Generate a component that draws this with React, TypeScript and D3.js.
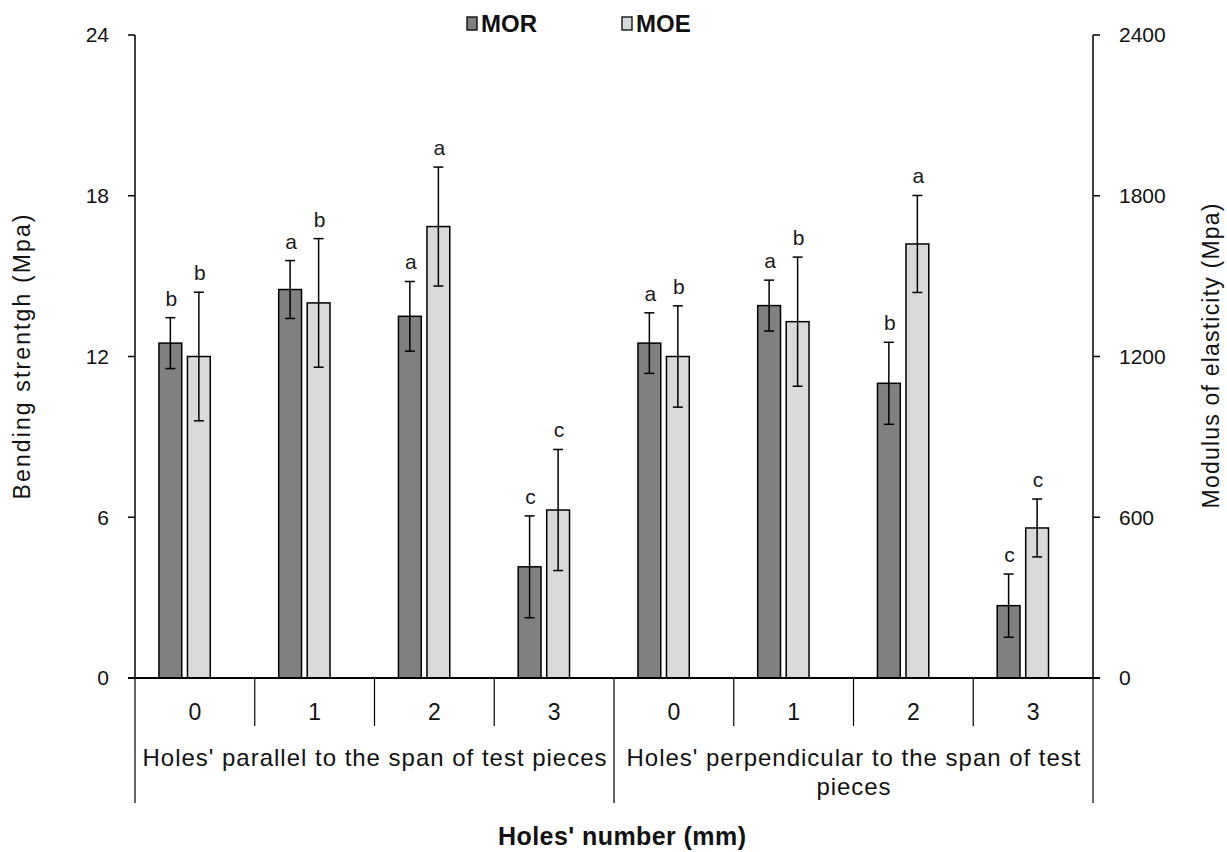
import React from "react";
import * as d3 from "d3";

const categories = ["0", "1", "2", "3", "0", "1", "2", "3"];
const groups = [
  { label: ["Holes' parallel to the span of test pieces"], start: 0, end: 4 },
  { label: ["Holes' perpendicular to the span of test", "pieces"], start: 4, end: 8 },
];
const morValues = [12.5, 14.5, 13.5, 4.15, 12.5, 13.9, 11.0, 2.7];
const morErrors = [0.95, 1.08, 1.3, 1.9, 1.13, 0.95, 1.53, 1.18];
const moeValues = [1200, 1400, 1685, 627, 1200, 1330, 1620, 560];
const moeErrors = [240, 240, 222, 226, 189, 241, 181, 108];
const morLetters = ["b", "a", "a", "c", "a", "a", "b", "c"];
const moeLetters = ["b", "b", "a", "c", "b", "b", "a", "c"];
const leftTicks = [0, 6, 12, 18, 24];
const rightTicks = [0, 600, 1200, 1800, 2400];

const FONT = "'Liberation Sans', Arial, sans-serif";

export default function App() {
  const W = 1227, H = 852;
  const x0 = 135, x1 = 1093, yTop = 35, yZero = 678;
  const x = d3.scaleBand<number>().domain(d3.range(categories.length)).range([x0, x1]).padding(0);
  const sub = d3
    .scaleBand<string>()
    .domain(["MOR", "MOE", "blank"])
    .range([0, x.bandwidth()])
    .paddingInner(0.2)
    .paddingOuter(0.7)
    .align(0.6);
  const yL = d3.scaleLinear().domain([0, 24]).range([yZero, yTop]);
  const yR = d3.scaleLinear().domain([0, 2400]).range([yZero, yTop]);
  const bw = sub.bandwidth();
  const cap = 5;

  const series = [
    { key: "MOR", vals: morValues, errs: morErrors, letters: morLetters, y: yL, fill: "#808080" },
    { key: "MOE", vals: moeValues, errs: moeErrors, letters: moeLetters, y: yR, fill: "#d9d9d9" },
  ];

  return (
    <svg width={W} height={H} style={{ display: "block", position: "absolute", left: 0, top: 0, background: "#fff" }} fontFamily={FONT}>
      <rect x={0} y={0} width={W} height={H} fill="#fff" />
      {/* bars */}
      {series.map((s) =>
        s.vals.map((v, i) => {
          const bx = (x(i) as number) + (sub(s.key) as number);
          const cx = bx + bw / 2;
          const top = s.y(v);
          const eTop = s.y(v + s.errs[i]);
          const eBot = s.y(v - s.errs[i]);
          return (
            <g key={s.key + i}>
              <rect x={bx} y={top} width={bw} height={yZero - top} fill={s.fill} stroke="#000" strokeWidth={1.5} />
              <line x1={cx} x2={cx} y1={eTop} y2={eBot} stroke="#000" strokeWidth={1.5} />
              <line x1={cx - cap} x2={cx + cap} y1={eTop} y2={eTop} stroke="#000" strokeWidth={1.5} />
              <line x1={cx - cap} x2={cx + cap} y1={eBot} y2={eBot} stroke="#000" strokeWidth={1.5} />
              <text x={cx + 1} y={eTop - 12} textAnchor="middle" fontSize={21} fill="#1a1a1a">
                {s.letters[i]}
              </text>
            </g>
          );
        })
      )}
      {/* left axis */}
      <line x1={x0} x2={x0} y1={yTop} y2={yZero} stroke="#000" strokeWidth={1.5} />
      {leftTicks.map((t) => (
        <g key={"l" + t}>
          <line x1={x0 - 7} x2={x0} y1={yL(t)} y2={yL(t)} stroke="#000" strokeWidth={1.5} />
          <text x={109} y={yL(t)} dy="0.35em" textAnchor="end" fontSize={21} fill="#111">
            {t}
          </text>
        </g>
      ))}
      {/* right axis */}
      <line x1={x1} x2={x1} y1={yTop} y2={yZero} stroke="#000" strokeWidth={1.5} />
      {rightTicks.map((t) => (
        <g key={"r" + t}>
          <line x1={x1} x2={x1 + 7} y1={yR(t)} y2={yR(t)} stroke="#000" strokeWidth={1.5} />
          <text x={1119} y={yR(t)} dy="0.35em" textAnchor="start" fontSize={21} fill="#111">
            {t}
          </text>
        </g>
      ))}
      {/* x axis */}
      <line x1={x0 - 7} x2={x1 + 7} y1={yZero} y2={yZero} stroke="#000" strokeWidth={2} />
      {d3.range(categories.length + 1).map((i) => {
        const bx = i < categories.length ? (x(i) as number) : x1;
        const long = groups.some((g) => g.start === i || g.end === i);
        return <line key={"sep" + i} x1={bx} x2={bx} y1={yZero} y2={long ? 803 : 726} stroke="#000" strokeWidth={1.2} />;
      })}
      {categories.map((c, i) => (
        <text key={"c" + i} x={(x(i) as number) + x.bandwidth() / 2} y={712} dy="0.35em" textAnchor="middle" fontSize={23} fill="#111">
          {c}
        </text>
      ))}
      {groups.map((g, gi) => {
        const cx = ((x(g.start) as number) + (g.end < categories.length ? (x(g.end) as number) : x1)) / 2;
        const lens = gi === 0 ? [464] : [454, 74];
        return g.label.map((l, li) => (
          <text
            key={"g" + gi + li}
            x={cx}
            y={758 + li * 29}
            dy="0.35em"
            textAnchor="middle"
            fontSize={24}
            fill="#111"
            textLength={lens[li]}
            lengthAdjust="spacing"
          >
            {l}
          </text>
        ));
      })}
      {/* axis titles */}
      <text x={622} y={836} dy="0.35em" textAnchor="middle" fontSize={25} fontWeight="bold" fill="#111" textLength={248} lengthAdjust="spacing">
        Holes' number (mm)
      </text>
      <text
        transform={`translate(22,357) rotate(-90)`}
        textAnchor="middle"
        dy="0.35em"
        fontSize={23}
        fill="#111"
        textLength={285}
        lengthAdjust="spacing"
      >
        Bending strentgh (Mpa)
      </text>
      <text
        transform={`translate(1211,356) rotate(-90)`}
        textAnchor="middle"
        dy="0.35em"
        fontSize={23}
        fill="#111"
        textLength={305}
        lengthAdjust="spacing"
      >
        Modulus of elasticity (Mpa)
      </text>
      {/* legend */}
      {series.map((s, i) => {
        const lx = i === 0 ? 467 : 622;
        return (
          <g key={"leg" + s.key}>
            <rect x={lx} y={17} width={10} height={13} fill={s.fill} stroke="#000" strokeWidth={1.3} />
            <text x={lx + 14} y={24} dy="0.35em" fontSize={24} fontWeight="bold" fill="#111">
              {s.key}
            </text>
          </g>
        );
      })}
    </svg>
  );
}
